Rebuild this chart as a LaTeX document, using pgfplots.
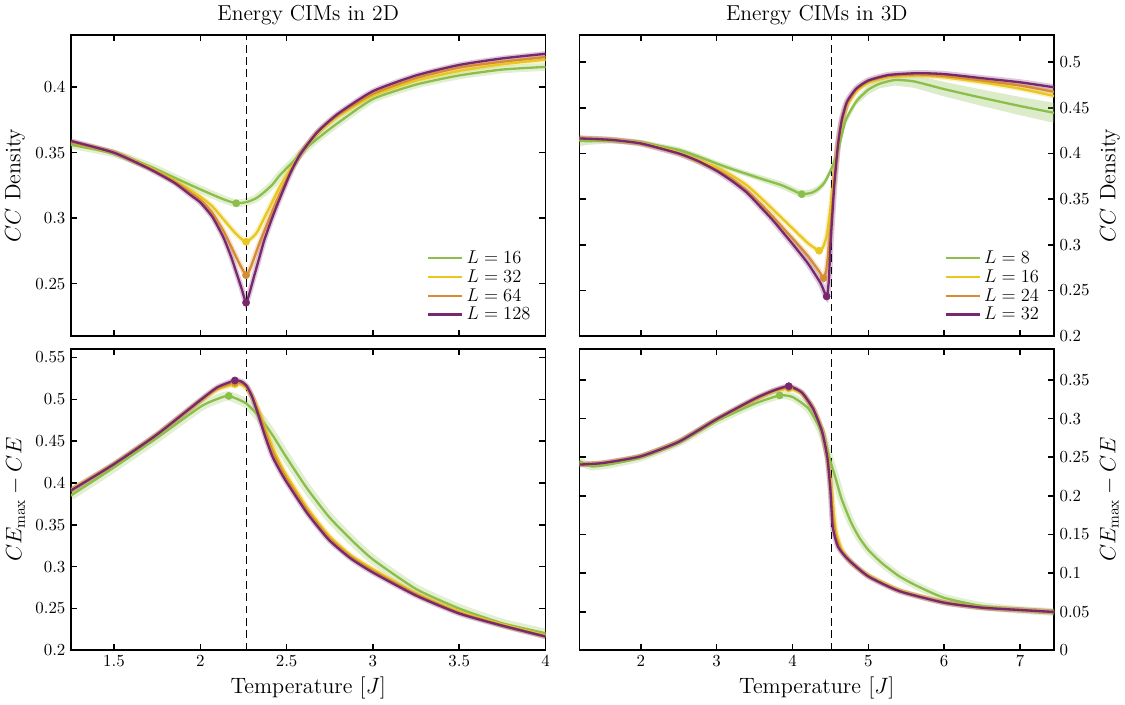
\documentclass[border=0pt]{standalone}
\usepackage{pgfplots}
\pgfplotsset{compat=1.18}
\usepackage{pgfplotstable}

\definecolor{cgreen}{RGB}{140,190,75}
\definecolor{cyellow}{RGB}{232,200,30}
\definecolor{corange}{RGB}{214,140,50}
\definecolor{cpurple}{RGB}{120,40,110}

% ---- 2D, CC density ----
\pgfplotstableread{
T v
1.25 0.356
1.5 0.3495
1.7 0.340
1.85 0.331
2.0 0.322
2.135 0.3144
2.208 0.3114
2.27 0.3124
2.32 0.315
2.366 0.3194
2.42 0.326
2.462 0.333
2.539 0.3434
2.6 0.352
2.7 0.363
2.8 0.373
3.0 0.391
3.25 0.402
3.5 0.409
3.75 0.4135
4.0 0.4155
}\tlA
\pgfplotstableread{
T v
1.25 0.358
1.5 0.350
1.7 0.339
1.85 0.329
2.0 0.3165
2.07 0.309
2.135 0.299
2.2 0.289
2.24 0.284
2.265 0.282
2.29 0.284
2.327 0.289
2.385 0.304
2.462 0.3245
2.52 0.337
2.58 0.349
2.68 0.365
2.8 0.378
3.0 0.3935
3.25 0.405
3.5 0.4125
3.75 0.4175
4.0 0.421
}\tlB
\pgfplotstableread{
T v
1.25 0.358
1.5 0.350
1.7 0.3385
1.85 0.328
2.0 0.314
2.07 0.304
2.135 0.290
2.18 0.278
2.22 0.267
2.265 0.2565
2.29 0.262
2.31 0.269
2.34 0.280
2.37 0.290
2.41 0.303
2.445 0.314
2.52 0.335
2.58 0.349
2.68 0.366
2.8 0.379
3.0 0.395
3.25 0.407
3.5 0.415
3.75 0.4195
4.0 0.423
}\tlC
\pgfplotstableread{
T v
1.25 0.359
1.5 0.350
1.7 0.338
1.85 0.327
1.95 0.317
2.0 0.312
2.07 0.301
2.135 0.285
2.18 0.270
2.21 0.258
2.24 0.246
2.265 0.2355
2.285 0.243
2.31 0.255
2.34 0.269
2.37 0.283
2.41 0.298
2.445 0.310
2.52 0.334
2.58 0.349
2.68 0.366
2.8 0.380
3.0 0.397
3.25 0.409
3.5 0.417
3.75 0.422
4.0 0.4255
}\tlD

% ---- 3D, CC density ----
\pgfplotstableread{
T v
1.19 0.414
1.3 0.4135
1.6 0.414
2.0 0.412
2.5 0.404
2.75 0.397
3.0 0.389
3.2 0.383
3.4 0.3775
3.6 0.372
3.85 0.3655
4.0 0.360
4.12 0.3555
4.25 0.357
4.33 0.3605
4.42 0.368
4.5 0.381
4.59 0.400
4.7 0.436
4.84 0.457
5.0 0.470
5.15 0.4765
5.35 0.4805
5.6 0.479
6.0 0.4705
6.5 0.461
7.0 0.452
7.45 0.4445
}\trA
\pgfplotstableread{
T v
1.19 0.4165
1.6 0.415
2.0 0.4115
2.5 0.401
3.0 0.385
3.2 0.376
3.4 0.365
3.6 0.350
3.75 0.338
3.9 0.326
4.0 0.318
4.2 0.302
4.3 0.296
4.35 0.2935
4.4 0.297
4.45 0.310
4.5 0.340
4.55 0.377
4.6 0.410
4.65 0.434
4.72 0.453
4.84 0.468
5.0 0.4775
5.27 0.484
5.65 0.4855
6.0 0.4835
6.5 0.478
7.0 0.471
7.45 0.463
}\trB
\pgfplotstableread{
T v
1.19 0.4165
1.6 0.415
2.0 0.411
2.5 0.400
3.0 0.382
3.2 0.372
3.4 0.359
3.6 0.343
3.75 0.330
3.9 0.316
4.0 0.307
4.2 0.288
4.35 0.271
4.41 0.2635
4.45 0.275
4.5 0.315
4.55 0.370
4.6 0.410
4.65 0.436
4.72 0.455
4.84 0.470
5.0 0.479
5.27 0.485
5.65 0.4865
6.0 0.485
6.5 0.480
7.0 0.4745
7.45 0.4675
}\trC
\pgfplotstableread{
T v
1.19 0.4165
1.6 0.415
2.0 0.411
2.5 0.400
2.75 0.392
3.0 0.381
3.2 0.370
3.4 0.357
3.6 0.3395
3.75 0.326
3.9 0.311
4.0 0.301
4.2 0.280
4.37 0.258
4.45 0.2435
4.48 0.262
4.5 0.300
4.55 0.365
4.6 0.410
4.65 0.437
4.72 0.457
4.84 0.471
5.0 0.480
5.27 0.486
5.65 0.488
6.0 0.487
6.5 0.4825
7.0 0.478
7.45 0.4725
}\trD

% ---- 2D, CEmax - CE ----
\pgfplotstableread{
T v
1.25 0.385
1.5 0.4186
1.75 0.454
2.0 0.491
2.1 0.5005
2.165 0.504
2.266 0.495
2.35 0.477
2.417 0.4576
2.5 0.4303
2.62 0.393
2.745 0.3596
2.87 0.333
3.0 0.3086
3.25 0.2733
3.5 0.250
3.75 0.2323
4.0 0.2205
}\blA
\pgfplotstableread{
T v
1.25 0.392
1.5 0.4225
1.75 0.458
2.0 0.498
2.1 0.512
2.2 0.518
2.24 0.5175
2.27 0.513
2.3 0.503
2.34 0.486
2.38 0.463
2.42 0.442
2.46 0.424
2.5 0.409
2.62 0.370
2.745 0.337
2.87 0.314
3.0 0.297
3.25 0.268
3.5 0.2465
3.75 0.231
4.0 0.218
}\blB
\pgfplotstableread{
T v
1.25 0.391
1.5 0.4225
1.75 0.458
2.0 0.4985
2.1 0.513
2.2 0.520
2.24 0.519
2.27 0.5145
2.3 0.503
2.34 0.483
2.38 0.459
2.42 0.437
2.46 0.420
2.5 0.405
2.62 0.367
2.745 0.3345
2.87 0.312
3.0 0.295
3.25 0.267
3.5 0.245
3.75 0.230
4.0 0.217
}\blC
\pgfplotstableread{
T v
1.25 0.391
1.5 0.4225
1.75 0.458
2.0 0.499
2.1 0.5145
2.2 0.5225
2.24 0.521
2.27 0.5155
2.3 0.503
2.335 0.482
2.375 0.456
2.417 0.432
2.46 0.415
2.5 0.401
2.62 0.3636
2.745 0.332
2.87 0.310
3.0 0.293
3.25 0.2655
3.5 0.244
3.75 0.2295
4.0 0.2165
}\blD

% ---- 3D, CEmax - CE ----
\pgfplotstableread{
T v
1.19 0.245
1.35 0.238
1.6 0.241
2.0 0.2495
2.5 0.269
3.0 0.2968
3.5 0.3193
3.83 0.330
4.0 0.3279
4.21 0.313
4.38 0.2831
4.5 0.2448
4.57 0.222
4.64 0.198
4.71 0.180
4.78 0.1639
4.88 0.146
5.0 0.1298
5.18 0.1128
5.41 0.0957
5.65 0.083
6.0 0.068
6.5 0.0574
7.0 0.0523
7.45 0.0497
}\brA
\pgfplotstableread{
T v
1.19 0.2405
1.5 0.2425
2.0 0.2512
2.5 0.270
3.0 0.299
3.5 0.3245
3.75 0.335
3.95 0.339
4.12 0.333
4.27 0.313
4.39 0.284
4.46 0.252
4.5 0.222
4.53 0.190
4.57 0.155
4.65 0.130
4.78 0.113
5.0 0.097
5.41 0.0775
6.0 0.0622
6.5 0.0556
7.0 0.0525
7.45 0.0498
}\brB
\pgfplotstableread{
T v
1.19 0.2405
1.5 0.2425
2.0 0.2512
2.5 0.270
3.0 0.299
3.5 0.325
3.75 0.3358
3.95 0.3405
4.12 0.3335
4.27 0.313
4.39 0.2835
4.46 0.250
4.5 0.214
4.53 0.175
4.57 0.148
4.65 0.128
4.78 0.1135
5.0 0.0962
5.41 0.077
6.0 0.062
6.5 0.0555
7.0 0.0524
7.45 0.0497
}\brC
\pgfplotstableread{
T v
1.19 0.2405
1.5 0.2425
2.0 0.2512
2.5 0.270
3.0 0.2993
3.5 0.3257
3.75 0.3364
3.95 0.342
4.12 0.334
4.27 0.313
4.39 0.283
4.46 0.249
4.5 0.2065
4.53 0.160
4.6 0.134
4.74 0.117
5.0 0.0957
5.41 0.0766
6.0 0.0617
6.5 0.0553
7.0 0.0523
7.45 0.0497
}\brD

\newcommand{\band}[3]{\addplot[forget plot, draw=#1, line width=#3, opacity=0.25, smooth, tension=0.35] table {#2};}
\newcommand{\curve}[2]{\addplot[draw=#1, line width=1.5pt, smooth, tension=0.35] table {#2};}
\newcommand{\pk}[3]{\addplot[forget plot, only marks, mark=*, mark size=2.3pt, color=#1] coordinates {(#2,#3)};}

\pgfplotsset{
  every axis/.append style={
    scale only axis, width=308pt, height=195.5pt,
    axis line style={line width=1.2pt}, tick align=inside,
    major tick length=4pt, every tick/.style={black, line width=1pt},
    tick label style={font=\fontsize{10.8}{13}\selectfont},
    yticklabel style={/pgf/number format/fixed, /pgf/number format/precision=2},
    xticklabel style={/pgf/number format/fixed},
    label style={font=\Large},
    title style={font=\fontsize{14}{16}\selectfont, yshift=-3pt},
    legend style={draw=none, fill=none, at={(0.985,0.025)}, anchor=south east,
      font=\large, row sep=-1.5pt},
    legend cell align=left,
    legend image code/.code={\draw[#1, line width=1.5pt] (0pt,0pt) -- (22pt,0pt);},
  },
}

\begin{document}
\begin{tikzpicture}
% top left
\begin{axis}[at={(0pt,0pt)}, anchor=north west,
  title={Energy CIMs in 2D}, ylabel={$CC$ Density},
  xmin=1.25, xmax=4, ymin=0.21, ymax=0.44,
  xtick={1.5,2,2.5,3,3.5,4}, xticklabels={},
  ytick={0.25,0.3,0.35,0.4}]
\band{cgreen}{\tlA}{5pt}
\band{cyellow}{\tlB}{3.5pt}
\band{corange}{\tlC}{3.5pt}
\band{cpurple}{\tlD}{3.5pt}
\addplot[forget plot, black, dashed, dash pattern=on 5pt off 3pt, line width=0.8pt] coordinates {(2.269,0.21) (2.269,0.44)};
\curve{cgreen}{\tlA}
\addlegendentry{$L = 16$}
\curve{cyellow}{\tlB}
\addlegendentry{$L = 32$}
\curve{corange}{\tlC}
\addlegendentry{$L = 64$}
\curve{cpurple}{\tlD}
\addlegendentry{$L = 128$}
\pk{cgreen}{2.208}{0.3114}
\pk{cyellow}{2.265}{0.282}
\pk{corange}{2.265}{0.2565}
\pk{cpurple}{2.265}{0.2355}
\end{axis}
% top right
\begin{axis}[at={(330pt,0pt)}, anchor=north west,
  title={Energy CIMs in 3D}, ylabel={$CC$ Density},
  yticklabel pos=right,
  xmin=1.19, xmax=7.45, ymin=0.2, ymax=0.53,
  xtick={2,3,4,5,6,7}, xticklabels={},
  ytick={0.2,0.25,0.3,0.35,0.4,0.45,0.5}]
\addplot[forget plot, fill=cgreen, fill opacity=0.3, draw=none] coordinates {
(1.19,0.420) (1.3,0.4175) (1.6,0.417) (2.0,0.415) (2.5,0.407) (2.75,0.400)
(3.0,0.392) (3.4,0.3805) (3.85,0.3695) (4.0,0.364) (4.12,0.3595) (4.25,0.361)
(4.33,0.3645) (4.42,0.372) (4.5,0.385) (4.59,0.404) (4.7,0.440) (4.84,0.461)
(5.0,0.475) (5.15,0.4815) (5.35,0.4865) (5.6,0.486) (6.0,0.4785) (6.5,0.470)
(7.0,0.462) (7.45,0.4555)
(7.45,0.4335) (7.0,0.442) (6.5,0.452) (6.0,0.4625) (5.6,0.472) (5.35,0.4745)
(5.15,0.4715) (5.0,0.465) (4.84,0.453) (4.7,0.432) (4.59,0.396) (4.5,0.377)
(4.42,0.364) (4.33,0.3565) (4.25,0.353) (4.12,0.3515) (4.0,0.356) (3.85,0.3615)
(3.4,0.3745) (3.0,0.386) (2.75,0.394) (2.5,0.401) (2.0,0.409) (1.6,0.411)
(1.3,0.4095) (1.19,0.408)} --cycle;
\band{cyellow}{\trB}{3.5pt}
\band{corange}{\trC}{3.5pt}
\band{cpurple}{\trD}{4pt}
\addplot[forget plot, black, dashed, dash pattern=on 5pt off 3pt, line width=0.8pt] coordinates {(4.5115,0.2) (4.5115,0.53)};
\curve{cgreen}{\trA}
\addlegendentry{$L = 8$}
\curve{cyellow}{\trB}
\addlegendentry{$L = 16$}
\curve{corange}{\trC}
\addlegendentry{$L = 24$}
\curve{cpurple}{\trD}
\addlegendentry{$L = 32$}
\pk{cgreen}{4.12}{0.3555}
\pk{cyellow}{4.35}{0.2935}
\pk{corange}{4.41}{0.2635}
\pk{cpurple}{4.45}{0.2435}
\end{axis}
% bottom left
\begin{axis}[at={(0pt,-203.9pt)}, anchor=north west,
  xlabel={Temperature $[J]$}, ylabel={$CE_{\max} - CE$},
  xmin=1.25, xmax=4, ymin=0.2, ymax=0.56,
  xtick={1.5,2,2.5,3,3.5,4},
  ytick={0.2,0.25,0.3,0.35,0.4,0.45,0.5,0.55}]
\band{cgreen}{\blA}{6pt}
\band{cyellow}{\blB}{3.5pt}
\band{corange}{\blC}{3.5pt}
\band{cpurple}{\blD}{3.5pt}
\addplot[forget plot, black, dashed, dash pattern=on 5pt off 3pt, line width=0.8pt] coordinates {(2.269,0.2) (2.269,0.56)};
\curve{cgreen}{\blA}
\curve{cyellow}{\blB}
\curve{corange}{\blC}
\curve{cpurple}{\blD}
\pk{cgreen}{2.165}{0.504}
\pk{cyellow}{2.2}{0.518}
\pk{corange}{2.2}{0.520}
\pk{cpurple}{2.2}{0.5225}
\end{axis}
% bottom right
\begin{axis}[at={(330pt,-203.9pt)}, anchor=north west,
  xlabel={Temperature $[J]$}, ylabel={$CE_{\max} - CE$},
  yticklabel pos=right,
  xmin=1.19, xmax=7.45, ymin=0, ymax=0.39,
  xtick={2,3,4,5,6,7},
  ytick={0,0.05,0.1,0.15,0.2,0.25,0.3,0.35}]
\band{cgreen}{\brA}{5pt}
\band{cyellow}{\brB}{3.5pt}
\band{corange}{\brC}{3.5pt}
\band{cpurple}{\brD}{3.5pt}
\addplot[forget plot, black, dashed, dash pattern=on 5pt off 3pt, line width=0.8pt] coordinates {(4.5115,0) (4.5115,0.39)};
\curve{cgreen}{\brA}
\curve{cyellow}{\brB}
\curve{corange}{\brC}
\curve{cpurple}{\brD}
\pk{cgreen}{3.83}{0.330}
\pk{cyellow}{3.95}{0.339}
\pk{corange}{3.95}{0.3405}
\pk{cpurple}{3.95}{0.342}
\end{axis}
\end{tikzpicture}
\end{document}
